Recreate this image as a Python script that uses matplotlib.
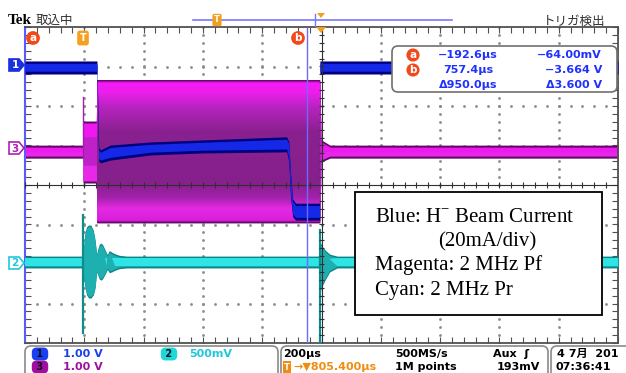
import matplotlib
matplotlib.use('Agg')
import matplotlib.pyplot as plt
import numpy as np
from matplotlib.patches import Polygon, Rectangle, FancyBboxPatch
from matplotlib.colors import LinearSegmentedColormap

plt.rcParams['font.family'] = ['DejaVu Sans', 'Noto Sans CJK JP']
plt.rcParams['mathtext.fontset'] = 'custom'
plt.rcParams['mathtext.rm'] = 'Liberation Serif'

W, H = 626, 373

# horizontal: 200 us/div, 10 div; left edge = cursor a
T_LEFT = -192.6
T_DIV = 200.0
T_CENTER = T_LEFT + 5 * T_DIV
cursor_a = -192.6
cursor_b = 757.4

# ch1 (blue) beam current envelope, in div
ch1_t = [-192.6, 50, 53, 56, 62, 95, 230, 400, 690, 697, 703, 710, 720, 801, 802, 1807.4]
ch1_top = [3.14, 3.14, 2.0, 0.95, 0.89, 1.01, 1.09, 1.14, 1.22, 1.10, 0.30, -0.35, -0.46, -0.46, 3.14, 3.14]
ch1_bot = [2.81, 2.81, 1.5, 0.60, 0.56, 0.63, 0.76, 0.81, 0.84, 0.60, -0.30, -0.80, -0.89, -0.89, 2.81, 2.81]

# ch3 (magenta) 2 MHz Pf envelope
ch3_t = [-192.6, 2.9, 3.1, 48, 50, 802, 806, 812, 836, 1807.4]
ch3_top = [1.01, 1.01, 1.62, 1.62, 2.66, 2.66, 1.14, 1.12, 1.01, 1.01]
ch3_bot = [0.68, 0.68, 0.05, 0.05, -0.96, -0.96, 0.58, 0.60, 0.68, 0.68]
ch3_spike = (3.0, 0.68, 2.23)

# ch2 (cyan) 2 MHz Pr envelope
ch2_t = [-192.6, 2, 6, 10, 15, 22, 30, 38, 44, 49, 53, 58, 64, 70, 78, 85, 92, 100, 110, 125, 150,
         800, 803, 810, 820, 835, 860, 1807.4]
ch2_top = [-1.80, -1.80, -1.50, -1.20, -1.06, -1.01, -1.02, -1.15, -1.40, -1.75, -1.62, -1.50,
           -1.47, -1.52, -1.65, -1.76, -1.66, -1.70, -1.74, -1.78, -1.80,
           -1.80, -1.45, -1.55, -1.65, -1.75, -1.80, -1.80]
ch2_bot = [-2.10, -2.10, -2.40, -2.60, -2.78, -2.86, -2.86, -2.78, -2.60, -2.20, -2.28, -2.38,
           -2.41, -2.36, -2.25, -2.14, -2.22, -2.20, -2.16, -2.12, -2.10,
           -2.10, -2.70, -2.55, -2.40, -2.20, -2.10, -2.10]
ch2_spikes = [(3.0, -0.76, -3.75), (803.0, -1.14, -4.0)]

fig = plt.figure(figsize=(W / 100, H / 100), dpi=100)
fig.patch.set_facecolor('white')
ax = fig.add_axes([25 / W, 1 - 343 / H, 593 / W, 316 / H])

# graticule
sub_t = T_LEFT + np.arange(0, 10.001, 0.2) * T_DIV
sub_y = np.arange(-4, 4.001, 0.2)
for k in range(1, 10):
    if k == 5:
        continue
    tx = T_LEFT + k * T_DIV
    ax.plot(np.full_like(sub_y, tx), sub_y, ls='none', marker='s', ms=0.9, color='#8c8c8c', zorder=1)
for k in range(-3, 4):
    if k == 0:
        continue
    ax.plot(sub_t, np.full_like(sub_t, k), ls='none', marker='s', ms=0.9, color='#8c8c8c', zorder=1)

# ch3 magenta
t3 = np.array(ch3_t)
top3 = np.array(ch3_top)
bot3 = np.array(ch3_bot)
mid3 = (top3 + bot3) / 2
ax.fill_between(t3, top3, bot3, color='#62086a', lw=0, zorder=2)
ax.fill_between(t3, top3 - 0.05, bot3 + 0.05, color='#c020c8', lw=0, zorder=2)
ax.fill_between(t3, top3 - 0.06, np.maximum(top3 - 0.4, mid3), color='#f018f0', lw=0, zorder=2)
ax.fill_between(t3, np.minimum(bot3 + 0.45, mid3), bot3 + 0.06, color='#e828e8', lw=0, zorder=2)
ax.plot([ch3_spike[0]] * 2, ch3_spike[1:], color='#a020a8', lw=1, zorder=2)

# the full 2 MHz envelope: persistence shading from bright edges to purple middle
p0, p1 = t3[4], t3[5]
y_lo, y_hi = bot3[4], top3[4]
span = y_hi - y_lo
stops = [(-0.96, '#5c0864'), (-0.91, '#d81ed8'), (-0.60, '#e42ae4'), (-0.32, '#a222aa'),
         (0.05, '#86208c'), (1.35, '#8a2090'), (1.95, '#b424bc'), (2.35, '#ec1eec'),
         (2.60, '#f81af8'), (2.66, '#5c0864')]
cmap3 = LinearSegmentedColormap.from_list('env3', [((y - y_lo) / span, c) for y, c in stops])
grad = np.linspace(0, 1, 400).reshape(-1, 1)
ax.imshow(grad, cmap=cmap3, extent=[p0, p1, y_lo, y_hi], origin='lower', aspect='auto',
          interpolation='bilinear', zorder=2.5)

# ch2 cyan
t2 = np.array(ch2_t)
top2 = np.array(ch2_top)
bot2 = np.array(ch2_bot)
mid2 = (top2 + bot2) / 2
ax.fill_between(t2, top2, bot2, color='#0a8484', lw=0, zorder=3)
ax.fill_between(t2, top2 - 0.04, bot2 + 0.04, color='#1eb0b0', lw=0, zorder=3)
ax.fill_between(t2, mid2 + 0.1, mid2 - 0.1, where=(top2 - bot2) < 0.45, interpolate=True,
                color='#2ee4e4', lw=0, zorder=3)
for st, y0, y1 in ch2_spikes:
    ax.plot([st, st], [y0, y1], color='#108c8c', lw=1.6, zorder=3)

# ch1 blue
t1 = np.array(ch1_t)
top1 = np.array(ch1_top)
bot1 = np.array(ch1_bot)
ax.fill_between(t1, top1, bot1, color='#00007e', lw=0, zorder=4)
ax.fill_between(t1, top1 - 0.06, bot1 + 0.07, color='#1428e6', lw=0, zorder=4)

# center cross
ax.axhline(0, color='#303030', lw=0.8, zorder=5)
ax.axvline(T_CENTER, color='#303030', lw=0.8, zorder=5)
ax.vlines(sub_t, -0.08, 0.08, color='#303030', lw=0.8, zorder=5)
ax.hlines(sub_y, T_CENTER - 9, T_CENTER + 9, color='#303030', lw=0.8, zorder=5)

# cursor b
ax.axvline(cursor_b, color='#6a6aff', lw=1, zorder=6)

ax.set_xlim(T_LEFT, T_LEFT + 10 * T_DIV)
ax.set_ylim(-4, 4)
ax.set_xticks(sub_t)
ax.set_yticks(sub_y)
ax.tick_params(direction='in', length=4, width=0.8, colors='#505050', top=True, right=True,
               labelbottom=False, labelleft=False)
for s in ['top', 'bottom', 'right']:
    ax.spines[s].set_color('#505050')
    ax.spines[s].set_linewidth(1.3)
ax.spines['left'].set_color('#5a5aff')
ax.spines['left'].set_linewidth(1.5)

# overlay in pixel coordinates
ov = fig.add_axes([0, 0, 1, 1])
ov.set_xlim(0, W)
ov.set_ylim(H, 0)
ov.axis('off')

# top bar
ov.text(8, 20, 'Tek', family='Liberation Serif', fontweight='bold', fontsize=11, va='center')
ov.text(36, 20, '取込中', family=['Noto Sans CJK JP'], fontsize=9, va='center', color='#303030')
ov.plot([193, 452], [20, 20], color='#7878ff', lw=1.2)
ov.plot([315, 315], [14, 26], color='#7878ff', lw=1)
ov.text(217, 20, 'T', ha='center', va='center', fontsize=6, color='white', weight='bold',
        bbox=dict(boxstyle='round,pad=0.2', fc='#f0a020', ec='none'))
ov.add_patch(Polygon([(317, 13), (325, 13), (321, 18)], closed=True, fc='#f0a020', ec='none'))
ov.text(605, 21, 'トリガ検出', ha='right', va='center', fontsize=9, family=['Noto Sans CJK JP'],
        color='#303030')

# markers inside graticule
for cx, lab in [(33, 'a'), (298, 'b')]:
    ov.text(cx, 38, lab, ha='center', va='center', fontsize=7.5, color='white', weight='bold',
            bbox=dict(boxstyle='circle,pad=0.18', fc='#f04a1a', ec='none'))
ov.text(83, 38, 'T', ha='center', va='center', fontsize=7, color='white', weight='bold',
        bbox=dict(boxstyle='round,pad=0.25', fc='#f5a020', ec='none'))
ov.add_patch(Polygon([(316, 27), (326, 27), (321, 33)], closed=True, fc='#f0a020', ec='none'))

# channel tags
def tag(y, lab, col, filled):
    pts = [(9, y - 6), (19, y - 6), (24, y), (19, y + 6), (9, y + 6)]
    ov.add_patch(Polygon(pts, closed=True, fc=col if filled else 'white', ec=col, lw=1.2))
    ov.text(15, y + 0.5, lab, ha='center', va='center', fontsize=7.5, weight='bold',
            color='white' if filled else col)

tag(65, '1', '#1a30e0', True)
tag(148, '3', '#b020b0', False)
tag(263, '2', '#20c8d8', False)

# measurement box
ov.add_patch(FancyBboxPatch((392, 46), 225, 46, boxstyle='round,pad=0,rounding_size=6',
                            fc='white', ec='#707070', lw=1.2))
meas_t = ['−192.6µs', '757.4µs', 'Δ950.0µs']
meas_v = ['−64.00mV', '−3.664 V', 'Δ3.600 V']
for i, (mt, mv) in enumerate(zip(meas_t, meas_v)):
    yy = 55 + 15 * i
    if i < 2:
        ov.text(413, yy, 'ab'[i], ha='center', va='center', fontsize=7.5, color='white',
                weight='bold', bbox=dict(boxstyle='circle,pad=0.15', fc='#f04a1a', ec='none'))
    ov.text(468, yy, mt, ha='center', va='center', fontsize=8, weight='bold', color='#2030ff')
    ov.text(602, yy, mv, ha='right', va='center', fontsize=8, weight='bold', color='#2030ff')

# legend box
ov.add_patch(Rectangle((355, 192), 247, 123, fc='white', ec='black', lw=1.3))
lg = dict(family='Liberation Serif', fontsize=15, va='baseline', color='black')
ov.text(375, 222, 'Blue: H$^{-}$ Beam Current', **lg)
ov.text(438, 246, '(20mA/div)', **lg)
ov.text(375, 270, 'Magenta: 2 MHz Pf', **lg)
ov.text(375, 295, 'Cyan: 2 MHz Pr', **lg)

# status bar
for x0, w in [(25, 253), (281, 267), (551, 90)]:
    ov.add_patch(FancyBboxPatch((x0, 346), w, 40, boxstyle='round,pad=0,rounding_size=6',
                                fc='white', ec='#8a8a8a', lw=1.2))

def pill(cx, cy, lab, col):
    ov.text(cx, cy, lab, ha='center', va='center', fontsize=7, weight='bold', color='#101020',
            bbox=dict(boxstyle='round,pad=0.15,rounding_size=0.5', fc=col, ec='none'))

sb = dict(fontsize=8, weight='bold', va='center')
pill(40, 354, ' 1 ', '#1a40f0')
ov.text(63, 354, '1.00 V', color='#1a40f0', **sb)
pill(169, 354, ' 2 ', '#20d8d8')
ov.text(189, 354, '500mV', color='#20c8d8', **sb)
pill(40, 367, ' 3 ', '#a010a0')
ov.text(63, 367, '1.00 V', color='#a010a0', **sb)
ov.text(283, 354, '200µs', color='black', **sb)
ov.text(287, 367, 'T', ha='center', va='center', fontsize=6, color='white', weight='bold',
        bbox=dict(boxstyle='square,pad=0.15', fc='#f08c10', ec='none'))
ov.text(293, 367, '→▼805.400µs', color='#f08c10', **sb)
ov.text(395, 354, '500MS/s', color='black', **sb)
ov.text(395, 367, '1M points', color='black', **sb)
ov.text(493, 354, 'Aux  ʃ', color='black', **sb)
ov.text(540, 367, '193mV', color='black', ha='right', fontsize=8, weight='bold', va='center')
ov.text(557, 354, '4 7月  201', color='black', **sb)
ov.text(555, 367, '07:36:41', color='black', **sb)

fig.savefig('out.png', dpi=100)
